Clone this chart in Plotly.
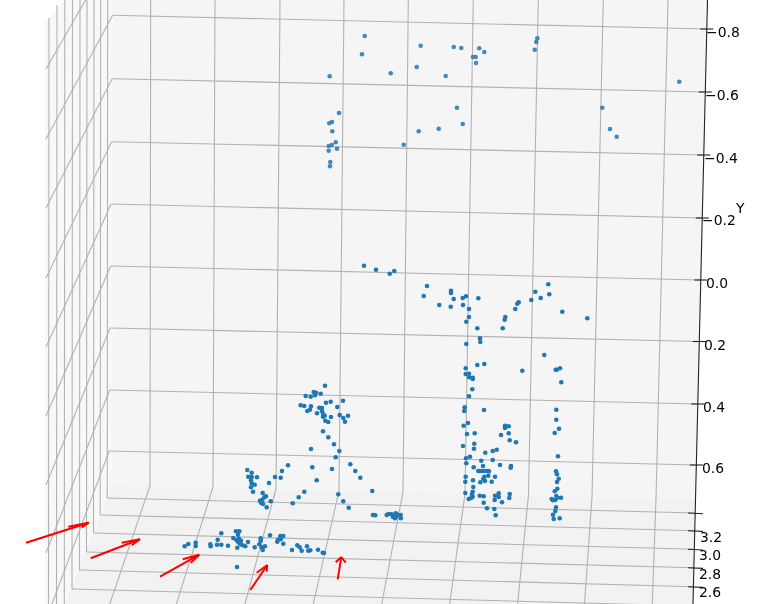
import plotly.graph_objects as go

# Values, in its picture plane (a 3D view seen flat)
upper_x = [364.7,362,329.7,390.7,420.7,416.7,445.7,453.7,461.3,479.3,484.3,473,475.7,476,457,462.7,438.7,418.7,403.7,
           339,332,329.3,332.3,335.7,331.7,328.7,337,328.7,330.3,330,537.3,536.3,534.7,679.3,602.3,610,616.7]
upper_y = [36,54.3,76.3,73.3,45.7,67,76,47,48,48.3,52,57,57,63,107.7,124,128.7,131.3,144.7,
           113,122,123.3,131.3,142.3,145,146,148.7,150.7,162,166.3,38.3,42,49.7,81.7,107.7,129,136.7]

lower_x = [364,376,389.7,394.3,427,423.7,439.3,451,451,453.7,450.7,462.7,466,463,478.3,469,469,466.3,477.3,480,480.3,466.3,
           515.3,517.3,518.7,505.3,504.7,502.7,531.3,535.3,540.7,548.3,549.3,562.3,587.3,
           544.3,477.3,484.3,522.3,465.7,465.7,469,469,472.7,472.7,472.3,469,555.7,556.7,560,561.3,
           464.7,464.3,484,556.3,556.3,559,554.7,468,463.7,467,474.7,505,505,508.7,508.7,501,
           509.7,516,463,474.3,474,485.3,492.7,496.7,558,470,466,466.3,481.3,492.7,500,511,510.7,473.7,483,
           478.3,480,482.3,485,487.3,489,484.3,488.3,495,483.3,480.3,485,491.7,473,465.7,465.3,473.3,
           556,557,558.7,557,557.3,554.7,465.3,472.7,472,472.7,471.3,468.7,
           479.7,483.7,495,498.7,498.7,494.7,502,509.7,509.3,483.7,487,494.3,495.7,
           551.7,553,556.3,557.3,561,555.3,556,555.3,553,553.7,559.7,
           325,313.7,316,315,320.7,305.7,310.7,326,330.7,343,337.3,300.7,304.3,311,310,307.3,317,319.3,322,322,323.3,324.7,323,325.3,328.3,331,339.7,343.3,348,345,
           323,328.3,334,339.3,311,335.7,
           288,282,312.3,332,316.7,350.3,355.3,360.3,372.3,247.3,251.7,248.3,251.7,257,275,280.7,251,251.7,269,254.7,251,253,
           262.7,266,264.3,304.3,298.7,292.7,338.3,343.3,348.7,270.7,260,262.3,261,263,266.7,
           373,375.3,386.7,388.7,391.7,395.7,397.7,400.7,393,396.3,400.7,395,
           184.7,188.3,195.7,195.7,210.3,210.7,217.7,217,221.3,221.3,228,233.3,236,239.3,238,236.3,239,238.3,241,240.3,242.7,237.3,245.3,248,254.7,259.3,260.7,260.7,261.7,262.7,265,270,237,
           278,280.3,283.3,277.3,280.7,283.3,292,297.3,299.7,301.7,307,308.3,310.3,318,322.7,324]
lower_y = [265.7,269.7,273.7,271,286,296,305,290.7,293,299,306.7,298,296.3,305,298.3,309,317,321.7,328.3,338.3,342,344,
           309,303.7,302.3,317,319.7,328.3,300,291.7,298,284.3,294.3,311.7,318.3,
           355,365,364,370.7,368.3,374,373.7,377.3,377.7,379,389.3,396.3,369.7,369.7,368.3,382.3,
           407.3,411,410,409.7,419.7,428.7,433,423,425.7,434,433.3,425.7,428,426.3,433.3,435,
           440.3,442.3,446,443.7,448.7,452.7,451,449.7,456.3,456.7,458.3,463.3,460.7,460,465,466,467.7,467.3,466,
           471,471,471,471,471,471.3,476.7,475.7,476.7,479,482.3,481,481.7,480.3,476.7,481.7,487,
           471.3,474.3,478.7,482,488.7,491.3,493,491.7,494.3,496.7,497.7,499,
           495.7,496.3,495.7,493.3,497,500,502.3,494,498,502.7,508.3,509,515.3,
           499,500.3,496,497.7,497.7,500,507.3,511,514.7,519,518.3,
           385.7,392,392.7,395.3,393.7,396,396.7,402.7,401.7,400.7,407,405.3,406,406.3,409.7,411,413.3,407.7,408,411.3,414.3,415.7,416.7,420.7,422,417,415,418,415.7,421.7,
           431.3,437.3,444.3,451,449,457.3,
           465.3,471,467.3,469,480.3,464.3,471,477.7,491,470,472.7,476.7,477,477.3,477,477.7,480.3,483.3,483,484.7,487.3,491.7,
           493,496.3,497.3,491.7,497.3,503.3,494.3,501.3,507.7,501.3,500.7,499.7,502.7,504,507.3,
           515,515.3,515,514,514.3,513.3,514.7,515,517,516.3,518.3,518.3,
           546.3,544,542.7,546,544.3,546.3,539.7,544.7,544.7,533.3,545.7,538,531.3,531.3,534.7,540,538.7,542.3,540.7,544.3,545.3,547.7,546.3,542,547.3,544.3,538.3,540.7,547.3,550,546.3,535.3,567,
           539.7,536,536,541.7,539.3,543.7,550,545.3,547.3,550.7,546.3,550.7,550.3,549.7,552.7,553]

arrow_tail_x = [26,90.7,160,250.3,337.7]
arrow_tail_y = [542.7,558.3,576.7,590,579.3]
arrow_head_x = [88.7,140,199.3,267.3,341.3]
arrow_head_y = [522.7,539.3,554.7,565,557]
arrow_wing_a_x = [68.3,121.7,182.7,256.7,335.7]
arrow_wing_a_y = [526.7,542.7,559.3,572.7,562.3]
arrow_wing_b_x = [81.7,131.7,190.7,266.7,345.7]
arrow_wing_b_y = [527.3,545.3,562.7,571.7,562.7]

y_tick_labels = ["\u22120.8","\u22120.6","\u22120.4","\u22120.2","0.0","0.2","0.4","0.6"]
z_tick_labels = ["3.2","3.0","2.8","2.6"]

# Layout of the projected box
y_label_x = [723,722,720.5,718.5,717,715,713.5,712.5]
y_label_y = [32,95,158,220,283,345,407,468]
z_label_x = [710.5,710,710,710]
z_label_y = [537,555,574.3,592.3]
wall_left_y = [15.3,78.7,141.7,204,266,328,390,451]
wall_right_y = [29,92,155,218,280,341.5,404,465]
edge_y = [69,139,208,278,347,416,485,553,620]
corner_y = [-48,15.3,78.7,141.7,204,266,328,390,451]
left_verticals = [107.7,100.7,94,87,80,72.5,64.8,57,49]
vertical_top = [0,0,0,0,0,0,0,5,18]
vertical_bottom = [498,515,533,552,570,589,604,604,604]
floor_left_y = [498,515,533,552,570,589]
floor_right_y = [513,530.7,549.3,567.7,586.7,606]
x_top = [150.7,215,280,344,408.3,473.3,538.3,603.3,668]
x_base = [150,213,276,339,403,465,528.5,592,656]
y_base = [485.7,487,489,491,492,494,495,497,499]
x_lean = [-.34,-.313,-.27,-.228,-.19,-.14,-.1,-.07,-.036]


def axis_x(y):
    return 707.5 - 0.024 * y


def corner_x(y):
    return 112.7 - 0.008 * (y - 15)


def segs(pairs):
    xs, ys = [], []
    for (x0, y0), (x1, y1) in pairs:
        xs += [x0, x1, None]
        ys += [y0, y1, None]
    return xs, ys


fig = go.Figure()


def fill(xs, ys, color):
    fig.add_trace(go.Scatter(x=xs, y=ys, mode="lines", fill="toself", fillcolor=color,
                             line=dict(width=0), hoverinfo="skip", showlegend=False))


fill([45, 65, 113, 112.5, 65, 45], [23, 0, 0, 485, 604, 604], "#f8f8f8")
fill([113, axis_x(0), axis_x(500), 112.5], [0, 0, 500, 485], "#f5f5f5")
fill([112.5, axis_x(500), axis_x(604), 65], [485, 500, 604, 604], "#f2f2f2")

grid = []
for ly, ry in zip(wall_left_y, wall_right_y):
    grid.append(((corner_x(ly), ly), (axis_x(ry), ry)))
for cy, ey in zip(corner_y, edge_y):
    grid.append(((corner_x(cy), cy), (46, ey)))
for vx, top, bottom in zip(left_verticals, vertical_top, vertical_bottom):
    grid.append(((vx, top), (vx - 0.5, bottom)))
for lx, ly, ry in zip(left_verticals, floor_left_y, floor_right_y):
    grid.append(((lx - 0.5, ly), (axis_x(ry), ry)))
for tx, bx, by, lean in zip(x_top, x_base, y_base, x_lean):
    grid.append(((tx, 0), (bx, by)))
    grid.append(((bx, by), (bx + lean * (604 - by), 604)))
gx, gy = segs(grid)
fig.add_trace(go.Scatter(x=gx, y=gy, mode="lines", line=dict(color="#b2b2b2", width=1.1),
                         hoverinfo="skip", showlegend=False))

fig.add_trace(go.Scatter(x=[axis_x(0), axis_x(604)], y=[0, 604], mode="lines",
                         line=dict(color="#222222", width=1.1), hoverinfo="skip", showlegend=False))
ticks = [((axis_x(y) - 6.5, y), (axis_x(y) + 6.5, y)) for y in wall_right_y]
ticks += [((688, y), (703, y + 0.7)) for y in [513, 530.7, 549.3, 567.7, 586.7]]
tx, ty = segs(ticks)
fig.add_trace(go.Scatter(x=tx, y=ty, mode="lines", line=dict(color="#222222", width=1.1),
                         hoverinfo="skip", showlegend=False))

fig.add_trace(go.Scatter(x=upper_x, y=upper_y, mode="markers", opacity=0.85,
                         marker=dict(color="#1f77b4", size=4.6), showlegend=False))
fig.add_trace(go.Scatter(x=lower_x, y=lower_y, mode="markers",
                         marker=dict(color="#1f77b4", size=4.6), showlegend=False))

arrows = []
for i in range(len(arrow_tail_x)):
    head = (arrow_head_x[i], arrow_head_y[i])
    arrows.append(((arrow_tail_x[i], arrow_tail_y[i]), head))
    arrows.append(((arrow_wing_a_x[i], arrow_wing_a_y[i]), head))
    arrows.append(((arrow_wing_b_x[i], arrow_wing_b_y[i]), head))
ax, ay = segs(arrows)
fig.add_trace(go.Scatter(x=ax, y=ay, mode="lines", line=dict(color="#ff0000", width=2),
                         hoverinfo="skip", showlegend=False))

font = dict(family="DejaVu Sans", size=13.9, color="#000000")
notes = list(zip(y_tick_labels, y_label_x, y_label_y)) + list(zip(z_tick_labels, z_label_x, z_label_y))
notes.append(("Y", 740, 207.7))
for text, x, y in notes:
    fig.add_annotation(x=x, y=y, text=text, showarrow=False, font=font, borderpad=0,
                       xanchor="center", yanchor="middle")

fig.update_layout(width=770, height=604, margin=dict(l=0, r=0, t=0, b=0),
                  paper_bgcolor="white", plot_bgcolor="white", showlegend=False,
                  xaxis=dict(range=[0, 770], visible=False, fixedrange=True),
                  yaxis=dict(range=[604, 0], visible=False, fixedrange=True))

fig.write_html("out.html", config=dict(displayModeBar=False),
               post_script="document.body.style.margin='0';document.body.style.overflow='hidden';")
